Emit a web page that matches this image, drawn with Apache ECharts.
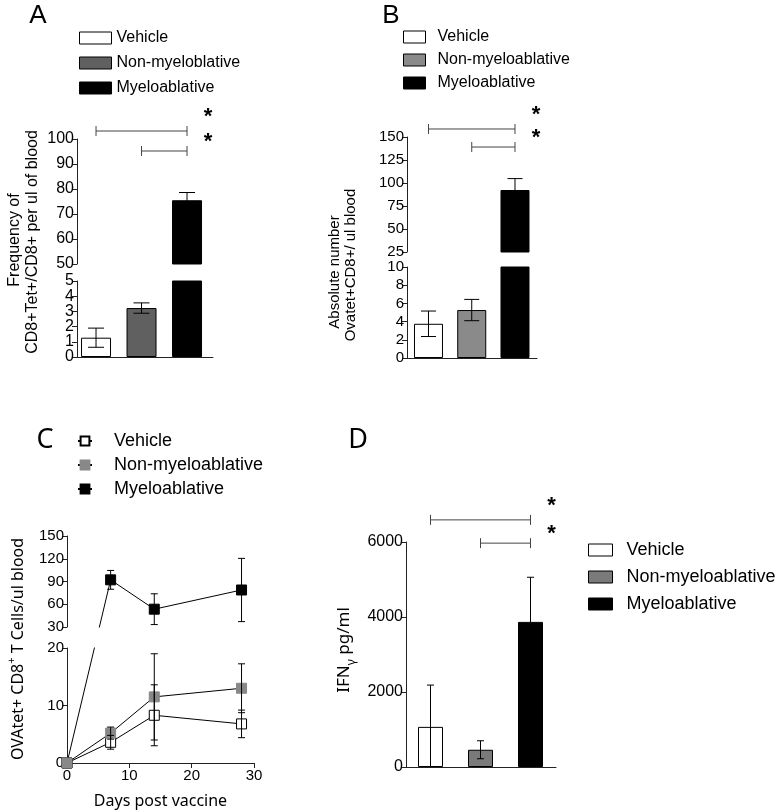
<!DOCTYPE html>
<html><head><meta charset="utf-8">
<script src="https://cdn.jsdelivr.net/npm/echarts@6/dist/echarts.min.js"></script>
<style>html,body{margin:0;padding:0;background:#fff}#c{width:778px;height:811px}</style>
</head><body><div id="c"></div>
<script>
// ---------- data ----------
const groups = ['Vehicle', 'Non-myeloablative', 'Myeloablative'];
const aLegendLabels = ['Vehicle', 'Non-myeloblative', 'Myeloablative'];
// Panel A: frequency of CD8+Tet+/CD8+
const aMean = [1.27, 3.22, 75.5];
const aSem  = [0.63, 0.34, 3.1];
const aUpper = {min: 50, max: 100, interval: 10};
const aLower = {min: 0, max: 5, interval: 1};
const aSig = [[0, 2, 103.2], [1, 2, 95.2]];
// Panel B: absolute number Ovatet+CD8+
const bMean = [3.76, 5.27, 92.4];
const bSem  = [1.4, 1.17, 12.4];
const bUpper = {min: 25, max: 150, interval: 25};
const bLower = {min: 0, max: 10, interval: 2};
const bSig = [[0, 2, 158.7], [1, 2, 139.1]];
// Panel C: time course
const cDays = [0, 7, 14, 28];
const cVehicle = [0, 3.6, 8.3, 6.8];
const cVehicleSem = [0, 1.2, 5.3, 2.4];
const cNonMyelo = [0, 5.2, 11.5, 13.0];
const cNonMyeloSem = [0, 1.05, 7.5, 4.25];
const cMyelo = [0, 92.2, 53.5, 78.8];
const cMyeloSem = [0, 12.4, 20.3, 41.7];
const cUpper = {min: 30, max: 150, interval: 30};
const cLower = {min: 0, max: 20, interval: 10};
const cX = {min: 0, max: 30, interval: 10};
// Panel D: IFN-gamma
const dMean = [1070, 460, 3870];
const dSem  = [1115, 240, 1190];
const dY = {min: 0, max: 6000, interval: 2000};
const dSig = [[0, 2, 6590], [1, 2, 5970]];

// ---------- styles ----------
const FONT = 'Liberation Sans, Arial, sans-serif';
const FONT2 = 'Noto Sans, Open Sans, sans-serif';
const AX = '#222';
const aColors = ['#ffffff', '#606060', '#000000'];
const bColors = ['#ffffff', '#8a8a8a', '#000000'];
const dColors = ['#ffffff', '#7a7a7a', '#000000'];
const starOffset = [-14, -9];

const chart = echarts.init(document.getElementById('c'));

function grid(left, top, width, height) {
  return {left, top, width, height, containLabel: false, outerBoundsMode: 'none'};
}
function yAx(gi, t, fs, extra) {
  const ax = {type: 'value', gridIndex: gi, position: 'left', min: t.min, max: t.max, interval: t.interval,
    axisLine: {show: true, onZero: false, lineStyle: {color: AX, width: 1}},
    axisTick: {show: true, length: 5, lineStyle: {color: AX}},
    axisLabel: {margin: 3, color: '#000', fontSize: fs, lineHeight: 11, fontFamily: FONT,
      showMinLabel: true, showMaxLabel: true, hideOverlap: false, formatter: v => String(v)},
    splitLine: {show: false}};
  if (extra) {
    if (extra.axisLabel) Object.assign(ax.axisLabel, extra.axisLabel);
    if (extra.axisLine) Object.assign(ax.axisLine, extra.axisLine);
    if (extra.interval) ax.interval = extra.interval;
  }
  return ax;
}
function xBar(gi, min, max, showLine) {
  return {type: 'value', gridIndex: gi, min, max,
    axisLine: {show: showLine, onZero: false, lineStyle: {color: AX, width: 1}},
    axisTick: {show: false}, axisLabel: {show: false}, splitLine: {show: false}};
}
function bars(gi, means, colors, w) {
  return groups.map((n, i) => ({type: 'bar', name: n, xAxisIndex: gi, yAxisIndex: gi,
    data: [[i, means[i]]], barWidth: w, barGap: '-100%', clip: true, silent: true,
    itemStyle: {color: colors[i], borderColor: '#000', borderWidth: 1}}));
}
function errs(gi, xs, means, sems, capHalf) {
  const data = [];
  means.forEach((m, i) => { if (sems[i] > 0) data.push([xs[i], m - sems[i], m + sems[i]]); });
  return {type: 'custom', xAxisIndex: gi, yAxisIndex: gi, clip: true, silent: true, z: 4, data,
    renderItem(params, api) {
      const x = api.value(0);
      const lo = api.coord([x, api.value(1)]), hi = api.coord([x, api.value(2)]);
      const st = {stroke: '#000', lineWidth: 1};
      return {type: 'group', children: [
        {type: 'line', shape: {x1: lo[0], y1: lo[1], x2: hi[0], y2: hi[1]}, style: st},
        {type: 'line', shape: {x1: hi[0] - capHalf, y1: hi[1], x2: hi[0] + capHalf, y2: hi[1]}, style: st},
        {type: 'line', shape: {x1: lo[0] - capHalf, y1: lo[1], x2: lo[0] + capHalf, y2: lo[1]}, style: st}
      ]};
    }};
}
function sig(gi, data) {
  return {type: 'custom', xAxisIndex: gi, yAxisIndex: gi, clip: false, silent: true, z: 5, data,
    renderItem(params, api) {
      const a = api.coord([api.value(0), api.value(2)]), b = api.coord([api.value(1), api.value(2)]);
      const st = {stroke: '#444', lineWidth: 1};
      return {type: 'group', children: [
        {type: 'line', shape: {x1: a[0], y1: a[1], x2: b[0], y2: b[1]}, style: st},
        {type: 'line', shape: {x1: a[0], y1: a[1] - 5, x2: a[0], y2: a[1] + 5}, style: st},
        {type: 'line', shape: {x1: b[0], y1: b[1] - 5, x2: b[0], y2: b[1] + 5}, style: st},
        {type: 'text', x: b[0] + 21, y: b[1] + starOffset[params.dataIndex], style: {text: '*', fontSize: 22, fontFamily: FONT,
          fontWeight: 'bold', fill: '#000', align: 'center', verticalAlign: 'middle'}}
      ]};
    }};
}
// panel C line series split across the broken axis
const C_UP = 4, C_LO = 5;
function cGrid(v) { return v >= cUpper.min ? C_UP : C_LO; }
function cLines(name, vals, style) {
  const out = [];
  [C_LO, C_UP].forEach(g => {
    const pts = [];
    vals.forEach((v, i) => { if (cGrid(v) === g) pts.push([cDays[i], v]); });
    if (pts.length) out.push(Object.assign({type: 'line', name, xAxisIndex: g, yAxisIndex: g,
      data: pts, symbol: 'rect', symbolSize: 10, clip: true, silent: true, z: 3,
      lineStyle: {color: '#000', width: 1}}, style));
  });
  return out;
}

const series = [].concat(
  cLines('Vehicle', cVehicle, {itemStyle: {color: '#fff', borderColor: '#000', borderWidth: 1}}),
  cLines('Myeloablative', cMyelo, {itemStyle: {color: '#000', borderColor: '#000', borderWidth: 1}}),
  cLines('Non-myeloablative', cNonMyelo, {itemStyle: {color: '#888', borderColor: '#888', borderWidth: 1}}),
  [errs(C_LO, cDays, cVehicle, cVehicleSem, 3.5), errs(C_LO, cDays, cNonMyelo, cNonMyeloSem, 3.5),
   errs(C_LO, cDays, cMyelo, cMyeloSem, 3.5), errs(C_UP, cDays, cMyelo, cMyeloSem, 3.5)],
  bars(0, aMean, aColors, 30), bars(1, aMean, aColors, 30),
  bars(2, bMean, bColors, 29), bars(3, bMean, bColors, 29),
  bars(6, dMean, dColors, 25),
  [errs(0, [0, 1, 2], aMean, aSem, 8), errs(1, [0, 1, 2], aMean, aSem, 8),
   errs(2, [0, 1, 2], bMean, bSem, 7.5), errs(3, [0, 1, 2], bMean, bSem, 7.5),
   errs(6, [0, 1, 2], dMean, dSem, 3.5),
   sig(0, aSig), sig(2, bSig), sig(6, dSig)]
);

function legendBox(left, top, iw, gap, fs, pad, colors, labels) {
  return {orient: 'vertical', left, top, padding: 0, itemWidth: iw, itemHeight: 12, itemGap: gap,
    selectedMode: false, textStyle: {fontSize: fs, fontFamily: FONT, color: '#000', padding: [0, 0, 0, pad]},
    formatter: name => labels[groups.indexOf(name)],
    data: groups.map((n, i) => ({name: n, icon: 'rect',
      itemStyle: {color: colors[i], borderColor: '#000', borderWidth: 1}}))};
}

const option = {
  animation: false,
  backgroundColor: '#fff',
  grid: [grid(77, 139, 136, 125), grid(77, 281, 136, 76),
         grid(407, 137, 130, 115), grid(407, 267, 130, 91),
         grid(67, 536, 187, 91), grid(67, 648, 187, 115),
         grid(406, 542, 150, 225)],
  xAxis: [xBar(0, -0.418, 2.571, false), xBar(1, -0.418, 2.571, true),
          xBar(2, -0.497, 2.509, false), xBar(3, -0.497, 2.509, true),
          {type: 'value', gridIndex: 4, min: cX.min, max: cX.max, show: false},
          {type: 'value', gridIndex: 5, min: cX.min, max: cX.max, interval: cX.interval,
            axisLine: {show: true, onZero: false, lineStyle: {color: AX, width: 1}},
            axisTick: {show: true, length: 5, lineStyle: {color: AX}},
            axisLabel: {margin: 5, color: '#000', fontSize: 15, fontFamily: FONT, showMinLabel: true, showMaxLabel: true},
            splitLine: {show: false},
            name: 'Days post vaccine', nameLocation: 'middle', nameGap: 30,
            nameTextStyle: {fontSize: 16, fontFamily: FONT2, color: '#000'}},
          xBar(6, -0.49, 2.51, true)],
  yAxis: [yAx(0, aUpper, 16),
          yAx(1, aLower, 16, {axisLabel: {showMinLabel: false, showMaxLabel: false}}),
          yAx(2, bUpper, 15), yAx(3, bLower, 15),
          yAx(4, cUpper, 15), yAx(5, cLower, 15), yAx(6, dY, 16),
          // end labels (0 and 5) of the tightly spaced lower A axis
          yAx(1, aLower, 16, {interval: aLower.max - aLower.min, axisLine: {show: false}})],
  legend: [
    {orient: 'vertical', left: 77, top: 432, padding: 0, itemWidth: 14, itemHeight: 11, itemGap: 6, selectedMode: false,
      textStyle: {fontSize: 18, fontFamily: FONT, color: '#000', padding: [0, 0, 0, 17]},
      data: groups.map(n => ({name: n}))},
    legendBox(79, 30, 32, 9, 16, 0, aColors, aLegendLabels),
    legendBox(403, 29, 22, 7, 16, 7, bColors, groups),
    legendBox(588, 541, 24, 9, 18, 9, dColors, groups)
  ],
  graphic: [
    {type: 'text', x: 38, y: 16, style: {text: 'A', fontSize: 26, fontFamily: FONT, fill: '#000', align: 'center', verticalAlign: 'middle'}},
    {type: 'text', x: 391, y: 16, style: {text: 'B', fontSize: 26, fontFamily: FONT, fill: '#000', align: 'center', verticalAlign: 'middle'}},
    {type: 'text', x: 45, y: 440, style: {text: 'C', fontSize: 27, fontFamily: FONT2, fill: '#000', align: 'center', verticalAlign: 'middle'}},
    {type: 'text', x: 358, y: 440, style: {text: 'D', fontSize: 27, fontFamily: FONT2, fill: '#000', align: 'center', verticalAlign: 'middle'}},
    {type: 'text', x: 15, y: 240, rotation: Math.PI / 2, style: {text: 'Frequency of', fontSize: 16, fontFamily: FONT, fill: '#000', align: 'center', verticalAlign: 'middle'}},
    {type: 'text', x: 33, y: 242, rotation: Math.PI / 2, style: {text: 'CD8+Tet+/CD8+ per ul of blood', fontSize: 16, fontFamily: FONT, fill: '#000', align: 'center', verticalAlign: 'middle'}},
    {type: 'text', x: 335, y: 272, rotation: Math.PI / 2, style: {text: 'Absolute number', fontSize: 15, fontFamily: FONT, fill: '#000', align: 'center', verticalAlign: 'middle'}},
    {type: 'text', x: 351, y: 265, rotation: Math.PI / 2, style: {text: 'Ovatet+CD8+/ ul blood', fontSize: 15, fontFamily: FONT, fill: '#000', align: 'center', verticalAlign: 'middle'}},
    {type: 'text', x: 16, y: 649, rotation: Math.PI / 2, style: {text: '{a|OVAtet+ CD8}{s|+}{a| T Cells/ul blood}', fill: '#000', align: 'center', verticalAlign: 'middle',
      rich: {a: {fontSize: 16, fontFamily: FONT2, lineHeight: 20, verticalAlign: 'bottom'}, s: {fontSize: 11, fontFamily: FONT2, lineHeight: 20, verticalAlign: 'top'}}}},
    {type: 'text', x: 347, y: 650, rotation: Math.PI / 2, style: {text: '{a|IFN}{s|γ}{a| pg/ml}', fill: '#000', align: 'center', verticalAlign: 'middle',
      rich: {a: {fontSize: 17, fontFamily: FONT2, lineHeight: 22, verticalAlign: 'top'}, s: {fontSize: 12, fontFamily: FONT2, lineHeight: 22, verticalAlign: 'bottom'}}}}
  ],
  series
};
chart.setOption(option);

// connectors for points that sit on different sides of the C axis break
const extra = [];
[cVehicle, cNonMyelo, cMyelo].forEach(vals => {
  for (let i = 0; i < cDays.length - 1; i++) {
    const g1 = cGrid(vals[i]), g2 = cGrid(vals[i + 1]);
    if (g1 === g2) continue;
    const p1 = chart.convertToPixel({gridIndex: g1}, [cDays[i], vals[i]]);
    const p2 = chart.convertToPixel({gridIndex: g2}, [cDays[i + 1], vals[i + 1]]);
    [g1, g2].forEach(g => {
      extra.push({type: 'line', xAxisIndex: g, yAxisIndex: g, symbol: 'none', clip: true, silent: true, z: 2,
        data: [chart.convertFromPixel({gridIndex: g}, p1), chart.convertFromPixel({gridIndex: g}, p2)],
        lineStyle: {color: '#000', width: 1}});
    });
  }
});
chart.setOption({series: series.concat(extra)});
</script>
</body></html>
